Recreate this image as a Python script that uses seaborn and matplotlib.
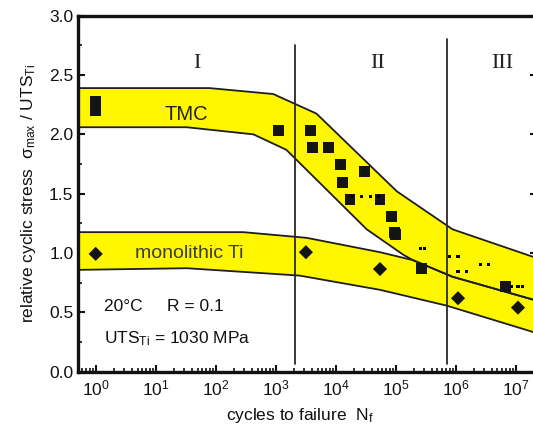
import numpy as np
import pandas as pd
import matplotlib
matplotlib.use("Agg")
import matplotlib.pyplot as plt
import seaborn as sns
from matplotlib.ticker import FixedLocator, LogFormatterMathtext, MultipleLocator, NullFormatter

# ---------------- data ----------------
tmc_N = [1, 1, 1100, 3800, 4100, 7600, 12000, 30000, 12900, 17400, 55000, 87000, 95000, 100000, 275000, 6900000]
tmc_y = [2.28, 2.20, 2.03, 2.03, 1.89, 1.89, 1.75, 1.69, 1.595, 1.454, 1.454, 1.305, 1.17, 1.155, 0.867, 0.72]

mono_N = [1, 3200, 55000, 1100000, 11000000]
mono_y = [0.993, 1.007, 0.865, 0.619, 0.54]

dots_N = [18900, 26700, 37800, 51300, 257000, 309000, 804000, 1100000,
          1100000, 1510000, 2610000, 3490000, 8700000, 11000000, 13200000]
dots_y = [1.474, 1.474, 1.474, 1.474, 1.035, 1.035, 0.97, 0.97,
          0.846, 0.846, 0.903, 0.903, 0.717, 0.717, 0.717]

tmc_up_N = [0.49, 79, 912, 4800, 105000, 890000, 2.04e7]
tmc_up_y = [2.39, 2.39, 2.34, 2.175, 1.52, 1.20, 0.965]
tmc_lo_N = [0.49, 33, 427, 1510, 33000, 135000, 195000, 890000, 2.04e7]
tmc_lo_y = [2.06, 2.06, 2.00, 1.87, 1.20, 0.985, 0.94, 0.80, 0.605]

mono_up_N = [0.49, 290, 3300, 55000, 195000, 890000, 2.04e7]
mono_up_y = [1.176, 1.176, 1.128, 1.007, 0.94, 0.80, 0.605]
mono_lo_N = [0.49, 33, 2500, 55000, 710000, 2.04e7]
mono_lo_y = [0.858, 0.872, 0.81, 0.69, 0.557, 0.332]

regime_N = [2100, 720000]
regime_top = [2.75, 2.80]
regime_labels = ["I", "II", "III"]
regime_label_N = [48, 51000, 6000000]

x_decades = [1, 10, 100, 1000, 10000, 100000, 1000000, 10000000]

# ---------------- style ----------------
sns.set_theme(style="ticks")
plt.rcParams["font.family"] = ["Liberation Sans", "DejaVu Sans"]
plt.rcParams["mathtext.default"] = "regular"

fig = plt.figure(figsize=(5.33, 4.26), dpi=100)
ax = fig.add_axes([78.3 / 533, 1 - 371.7 / 426, (536.5 - 78.3) / 533, (371.7 - 15.7) / 426])
ax.set_xscale("log")

yellow = "#FFF700"
edge = "#1e1e1e"

# bands
ax.fill(tmc_up_N + tmc_lo_N[::-1], tmc_up_y + tmc_lo_y[::-1], color=yellow, lw=0, zorder=1)
ax.fill(mono_up_N + mono_lo_N[::-1], mono_up_y + mono_lo_y[::-1], color=yellow, lw=0, zorder=1)

for xs, ys in [(tmc_up_N, tmc_up_y), (tmc_lo_N, tmc_lo_y), (mono_up_N, mono_up_y), (mono_lo_N, mono_lo_y)]:
    sns.lineplot(x=xs, y=ys, ax=ax, color=edge, lw=1.3, sort=False, estimator=None, zorder=2)

# regime boundaries
for xn, top in zip(regime_N, regime_top):
    ax.plot([xn, xn], [0.065, top], color="#2a2a2a", lw=1.3, zorder=2)

# data points
sns.scatterplot(x=tmc_N, y=tmc_y, ax=ax, marker="s", s=62, color="#141414", edgecolor="none", zorder=4)
sns.scatterplot(x=mono_N, y=mono_y, ax=ax, marker="D", s=52, color="#141414", edgecolor="none", zorder=4)
sns.scatterplot(x=dots_N, y=dots_y, ax=ax, marker="s", s=5, color="#000000", edgecolor="none", zorder=5)

# labels in plot
for lab, xn in zip(regime_labels, regime_label_N):
    ax.text(xn, 2.60, lab, family="Liberation Serif", fontsize=16, ha="center", va="center", color="#222222")
ax.text(32, 2.17, "TMC", fontsize=14.5, ha="center", va="center", color="#222222")
ax.text(36, 0.993, "monolithic Ti", fontsize=14, ha="center", va="center", color="#3c3c3c")
ax.text(1.38, 0.55, "20°C     R = 0.1", fontsize=12.5, ha="left", va="center", color="#111111")
ax.text(1.36, 0.28, "UTS$_{Ti}$ = 1030 MPa", fontsize=12.5, ha="left", va="center", color="#111111")

# axes
ax.set_xlim(10 ** -0.29, 10 ** 7.35)
ax.set_ylim(0, 3.0)
ax.yaxis.set_major_locator(MultipleLocator(0.5))
ax.yaxis.set_minor_locator(MultipleLocator(0.25))
ax.yaxis.set_major_formatter(matplotlib.ticker.FormatStrFormatter("%.1f"))
ax.xaxis.set_major_locator(FixedLocator(x_decades))
ax.xaxis.set_major_formatter(LogFormatterMathtext())
minor_pos = [d * k for d in [0.1] + x_decades for k in range(2, 10)]
minor_pos = [m for m in minor_pos if 10 ** -0.29 < m < 10 ** 7.3]
ax.xaxis.set_minor_locator(FixedLocator(minor_pos))
ax.xaxis.set_minor_formatter(NullFormatter())

ax.tick_params(axis="both", which="major", direction="in", length=5, width=1.5,
               labelsize=12.5, colors="#111111", right=True, top=False)
ax.tick_params(axis="both", which="minor", direction="in", length=3, width=1.2,
               right=True, top=False, colors="#111111")
ax.tick_params(axis="x", which="major", pad=5)
for sp in ax.spines.values():
    sp.set_linewidth(2.4)
    sp.set_color("#111111")
    sp.set_visible(True)

ax.set_xlabel("cycles to failure  N$_f$", fontsize=12.5, labelpad=2, color="#111111")
ax.set_ylabel("relative cyclic stress  σ$_{max}$ / UTS$_{Ti}$", fontsize=12.5, labelpad=8, color="#111111")
ax.xaxis.set_label_coords((300 - 78.3) / (536.5 - 78.3), -0.095)

fig.savefig("out.png", dpi=100)
